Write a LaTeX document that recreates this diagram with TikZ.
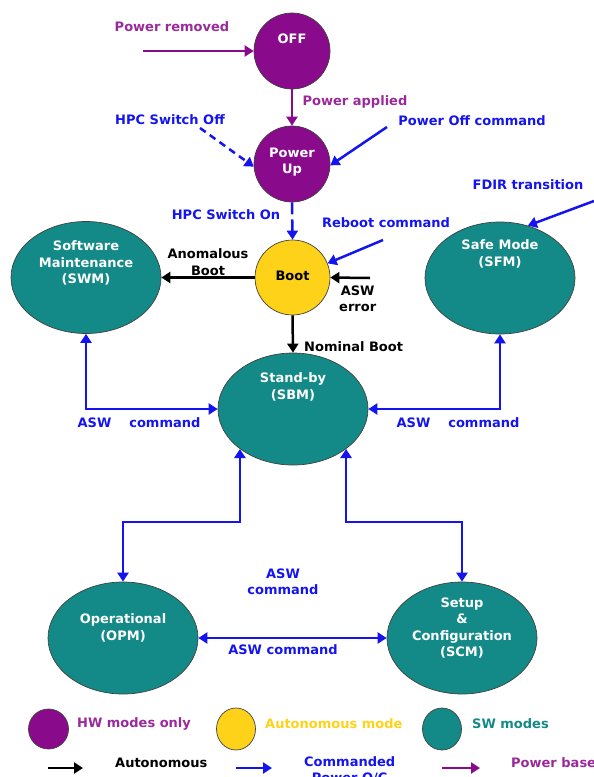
\documentclass[tikz,border=0pt]{standalone}
\usepackage{fontspec}
\setmainfont{DejaVu Sans}
\usetikzlibrary{shapes.geometric,arrows.meta,calc}
\definecolor{hwp}{HTML}{8A0A8C}
\definecolor{pwtxt}{HTML}{9A2A9A}
\definecolor{swt}{HTML}{138A87}
\definecolor{aut}{HTML}{FFD21A}
\definecolor{cmdb}{HTML}{1414F0}
\begin{document}
\begin{tikzpicture}[x=1pt,y=-1pt,
  every node/.style={font=\fontsize{13}{16.5}\selectfont\bfseries, inner sep=0pt, align=center},
  hwnode/.style={circle, draw=black!75, line width=0.7pt, fill=hwp, minimum size=76pt},
  autnode/.style={ellipse, draw=black!75, line width=0.7pt, fill=aut, minimum width=75pt, minimum height=75pt},
  swnode/.style={ellipse, draw=black!75, line width=0.7pt, fill=swt, minimum width=150pt, minimum height=112pt},
  txwt/.style={text=white},
  txbl/.style={text=cmdb},
  txpw/.style={text=pwtxt},
  txbk/.style={text=black},
  tiparr/.style={-{Triangle[length=9pt,width=11pt]}},
  bothtip/.style={{Triangle[length=9pt,width=11pt]}-{Triangle[length=9pt,width=11pt]}},
  pwarr/.style={hwp, line width=2.5pt, tiparr},
  cmarr/.style={cmdb, line width=2.5pt, tiparr},
  cmboth/.style={cmdb, line width=2.5pt, bothtip},
  auarr/.style={black, line width=2.5pt, tiparr}
]
\useasboundingbox (0,0) rectangle (594,777);
\clip (0,0) rectangle (594,777);

% state nodes
\node[hwnode] (off) at (292,51) {};
\node[txwt] (offt) at (292,39) {OFF};
\node[hwnode] (pu) at (292,164) {};
\node[txwt] (put) at (292,162) {Power\\Up};
\node[autnode] (boot) at (292.5,277.5) {};
\node[txbk] (boott) at (292.5,276) {Boot};
\node[swnode] (swm) at (86,277.5) {};
\node[txwt] (swmt) at (86,263) {Software\\Maintenance\\(SWM)};
\node[swnode] (sfm) at (500,278) {};
\node[txwt] (sfmt) at (500,254) {Safe Mode\\(SFM)};
\node[swnode] (sbm) at (293,409) {};
\node[txwt] (sbmt) at (293,387) {Stand-by\\(SBM)};
\node[swnode] (opm) at (123,638) {};
\node[txwt] (opmt) at (123,628) {Operational\\(OPM)};
\node[swnode] (scm) at (462,638) {};
\node[txwt] (scmt) at (462,628) {Setup\\\&\\Configuration\\(SCM)};

% free ends
\coordinate (prs) at (143,51);
\coordinate (hoff) at (200,128);
\coordinate (pocs) at (387,127);
\coordinate (fdirs) at (594,201);
\coordinate (rbs) at (383,240);
\coordinate (aes) at (370,278);

% connectors
\draw[pwarr] (prs) -- (off.west);
\draw[pwarr] (off.south) -- (pu.north);
\draw[cmarr, dash pattern=on 7pt off 5pt] (hoff) -- (pu.184);
\draw[cmarr] (pocs) -- (pu.-2);
\draw[cmarr, dash pattern=on 12pt off 5pt] (pu.south) -- (boot.north);
\draw[cmarr] (rbs) -- (boot.22);
\draw[auarr] (aes) -- (boot.east);
\draw[auarr] (boot.west) -- (boot.west -| swm.east);
\draw[auarr] (boot.south) -- (sbm.north);
\draw[cmarr] (fdirs) -- (sfm.62);
\draw[cmboth] (swm.south) |- (sbm.west);
\draw[cmboth] (sfm.south) |- (sbm.east);
\draw[cmboth] (sbm.217) -- (sbm.217 |- 0,522) -| (opm.north);
\draw[cmboth] (sbm.323) -- (sbm.323 |- 0,522) -| (scm.north);
\draw[cmboth] (opm.east) -- (scm.west);

% labels
\node[txpw] (lpr) at (172,27) {Power removed};
\node[txpw] (lpa) at (355,102) {Power applied};
\node[txbl] (lhoff) at (170,120) {HPC Switch Off};
\node[txbl] (lpoc) at (472,121) {Power Off command};
\node[txbl] (lfdir) at (528,185) {FDIR transition};
\node[txbl] (lhon) at (226,215) {HPC Switch On};
\node[txbl] (lrb) at (386,223) {Reboot command};
\node[txbk] (lab) at (208,262) {Anomalous\\Boot};
\node[txbk, anchor=west] (lae) at (339,299) {ASW\\error};
\node[txbk, anchor=west] (lnb) at (304,347) {Nominal Boot};
\node[txbl] (lc1) at (139,423) {ASW\hspace{18pt}command};
\node[txbl] (lc2) at (458,423) {ASW\hspace{18pt}command};
\node[txbl] (lc3) at (283,582) {ASW\\command};
\node[txbl] (lc4) at (283,650) {ASW command};

% legend
\node[circle, draw=black!75, line width=0.7pt, fill=hwp, minimum width=39pt, minimum height=40pt] (lg1) at (48.5,729) {};
\node[txpw, anchor=west] (lg1t) at (77,724) {HW modes only};
\node[ellipse, draw=black!75, line width=0.7pt, fill=aut, minimum width=39pt, minimum height=42pt] (lg2) at (236,729) {};
\node[text=aut, anchor=west] (lg2t) at (265,724) {Autonomous mode};
\node[ellipse, draw=black!75, line width=0.7pt, fill=swt, minimum width=39pt, minimum height=42pt] (lg3) at (442,729) {};
\node[text=swt, anchor=west] (lg3t) at (472,724) {SW modes};
\coordinate (a1s) at (48,768);
\coordinate (a1e) at (83,768);
\coordinate (a2s) at (236,768);
\coordinate (a2e) at (272,768);
\coordinate (a3s) at (442,768);
\coordinate (a3e) at (480,768);
\draw[auarr] (a1s) -- (a1e);
\draw[cmarr] (a2s) -- (a2e);
\draw[pwarr] (a3s) -- (a3e);
\node[txbk, anchor=west] (lg4t) at (115,763) {Autonomous};
\node[txbl, anchor=north west] (lg5t) at (304,756) {Commanded\\Power O/C};
\node[txpw, anchor=west] (lg6t) at (511,763) {Power based};
\end{tikzpicture}
\end{document}
